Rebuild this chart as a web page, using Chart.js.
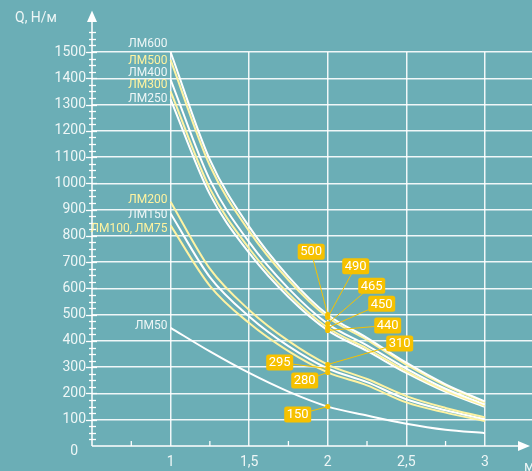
<!DOCTYPE html>
<html><head><meta charset="utf-8">
<script src="https://cdn.jsdelivr.net/npm/chart.js@4.4.1/dist/chart.umd.min.js"></script>
<style>html,body{margin:0;padding:0;background:#6baeb6;}canvas{display:block;}</style>
</head><body>
<canvas id="c" width="532" height="471"></canvas>
<script>
// ---- data ----
const lengths = [1, 1.25, 1.5, 1.75, 2, 2.25, 2.5, 2.75, 3];
const seriesNames = ['ЛМ600','ЛМ500','ЛМ400','ЛМ300','ЛМ250','ЛМ200','ЛМ150','ЛМ100, ЛМ75','ЛМ50'];
const lm600 = [1500, 1090, 835, 645, 500, 412, 317, 235, 170];
const lm500 = [1470, 1068, 818, 632, 490, 404, 310, 230, 165];
const lm400 = [1395, 1013, 776, 600, 465, 383, 295, 218, 158];
const lm300 = [1350, 980, 752, 580, 450, 371, 285, 211, 153];
const lm250 = [1320, 958, 735, 567, 440, 362, 278, 206, 149];
const lm200 = [930, 675, 518, 400, 310, 255, 190, 145, 109];
const lm150 = [885, 643, 493, 380, 295, 243, 178, 136, 102];
const lm100 = [840, 610, 468, 361, 280, 231, 166, 127, 95];
const lm50  = [450, 360, 278, 207, 150, 116, 85, 62, 49];
const seriesValues = [lm600, lm500, lm400, lm300, lm250, lm200, lm150, lm100, lm50];
const calloutX = 2;
const calloutValues = [500, 490, 465, 450, 440, 310, 295, 280, 150];
const xTickLabels = {'1':'1', '1.5':'1,5', '2':'2', '2.5':'2,5', '3':'3'};
const yTickStep = 100;
const yTitle = 'Q, Н/м';
const xTitle = 'м';

// ---- styles ----
const WHITE = '#ffffff', YELLOW = '#fff3a3';
const TXT = '#eef6f6', TXT_Y = '#fff3a0';
const GOLD = '#f6c100';
const seriesColors = [WHITE, YELLOW, WHITE, YELLOW, WHITE, YELLOW, WHITE, YELLOW, WHITE];
const labelColors = [TXT, TXT_Y, TXT, TXT_Y, TXT, TXT_Y, TXT, TXT_Y, TXT];
const labelDy = [-8, 0.7, -7, -6.8, -0.7, -1.7, 1.5, 4, -1.8];
const calloutOffsets = [[-16.5,-63],[28,-51],[44,-38],[54,-24],[60,-5],[72,-21],[-48,-6],[-23,8],[-30,8]];
const FONT = 'Roboto, "Open Sans", sans-serif';

const decor = {
  id: 'decor',
  beforeDatasetsDraw(chart) {
    const c = chart.ctx, xs = chart.scales.x, ys = chart.scales.y;
    const ax = xs.getPixelForValue(0.5), ay = ys.getPixelForValue(0);
    c.save();
    c.strokeStyle = '#ffffff'; c.fillStyle = '#ffffff'; c.lineWidth = 1.5;
    // y axis
    c.beginPath(); c.moveTo(ax, ay); c.lineTo(ax, 20); c.stroke();
    c.beginPath(); c.moveTo(ax, 10.5); c.lineTo(ax-5, 22); c.lineTo(ax+5, 22); c.closePath(); c.fill();
    // x axis
    c.beginPath(); c.moveTo(ax, ay); c.lineTo(520, ay); c.stroke();
    c.beginPath(); c.moveTo(530, ay); c.lineTo(518, ay-5); c.lineTo(518, ay+5); c.closePath(); c.fill();
    // y ticks (major every 100, minor every 25)
    c.lineWidth = 1.3;
    for (let v = 25; v <= 1575; v += 25) {
      const p = Math.round(ys.getPixelForValue(v)) + 0.5;
      const major = v % 100 === 0;
      c.beginPath(); c.moveTo(ax - (major ? 6 : 3), p); c.lineTo(ax + (major ? 5 : 4), p); c.stroke();
    }
    // x minor ticks
    for (let v = 0.75; v < 3; v += 0.5) {
      const p = xs.getPixelForValue(v);
      c.beginPath(); c.moveTo(p, ay); c.lineTo(p, ay - 5); c.stroke();
    }
    // texts
    c.fillStyle = TXT; c.font = '14px ' + FONT; c.textBaseline = 'middle';
    c.textAlign = 'left'; c.fillText(yTitle, 15, 18);
    c.textAlign = 'right'; c.fillText('0', 78, 451);
    c.textAlign = 'left'; c.fillText(xTitle, 524, 467);
    c.restore();
  },
  afterDatasetsDraw(chart) {
    const c = chart.ctx, xs = chart.scales.x, ys = chart.scales.y;
    c.save();
    // series labels
    c.font = '12px ' + FONT; c.textAlign = 'right'; c.textBaseline = 'middle';
    seriesValues.forEach((s, i) => {
      const px = xs.getPixelForValue(lengths[0]) - 3;
      const py = ys.getPixelForValue(s[0]) + labelDy[i];
      c.fillStyle = labelColors[i];
      c.fillText(seriesNames[i], px, py);
    });
    // callouts
    const px = xs.getPixelForValue(calloutX);
    calloutValues.forEach((v, i) => {
      const py = ys.getPixelForValue(v);
      const bx = px + calloutOffsets[i][0], by = py + calloutOffsets[i][1];
      c.strokeStyle = GOLD; c.lineWidth = 1;
      c.beginPath(); c.moveTo(bx, by); c.lineTo(px, py); c.stroke();
      c.fillStyle = GOLD;
      c.beginPath(); c.arc(px, py, 2.6, 0, Math.PI*2); c.fill();
    });
    calloutValues.forEach((v, i) => {
      const py = ys.getPixelForValue(v);
      const bx = px + calloutOffsets[i][0], by = py + calloutOffsets[i][1];
      const w = 27, h = 16;
      c.fillStyle = GOLD;
      c.beginPath(); c.roundRect(bx - w/2, by - h/2, w, h, 2.5); c.fill();
      c.fillStyle = '#ffffff'; c.font = '13px ' + FONT; c.textAlign = 'center'; c.textBaseline = 'middle';
      c.fillText(String(v), bx, by + 0.5);
    });
    c.restore();
  }
};

new Chart(document.getElementById('c'), {
  type: 'line',
  data: {
    datasets: seriesValues.map((s, i) => ({
      label: seriesNames[i],
      data: lengths.map((x, j) => ({x: x, y: s[j]})),
      borderColor: seriesColors[i],
      borderWidth: 2,
      pointRadius: 0,
      fill: false,
      cubicInterpolationMode: 'monotone',
      clip: false
    }))
  },
  options: {
    responsive: false, animation: false, devicePixelRatio: 1,
    layout: {padding: {top: 52, left: 0, right: 0, bottom: 0}},
    plugins: {legend: {display: false}, tooltip: {enabled: false}},
    scales: {
      x: {
        type: 'linear', min: 0.5, max: 3.3,
        afterFit(s) { s.height = 25; },
        border: {display: false},
        grid: {
          drawTicks: false, lineWidth: 1.5,
          color: (ctx) => (xTickLabels[String(ctx.tick.value)] ? 'rgba(255,255,255,0.9)' : 'rgba(0,0,0,0)')
        },
        ticks: {
          stepSize: 0.5, includeBounds: false, autoSkip: false, maxRotation: 0, padding: 8,
          color: TXT, font: {family: FONT, size: 14},
          callback: (v) => xTickLabels[String(v)] || ''
        }
      },
      y: {
        type: 'linear', min: 0, max: 1500,
        afterFit(s) { s.width = 92; },
        border: {display: false},
        grid: {
          drawTicks: false, lineWidth: 1.5,
          color: (ctx) => (ctx.tick.value > 0 ? 'rgba(255,255,255,0.9)' : 'rgba(0,0,0,0)')
        },
        ticks: {
          stepSize: yTickStep, padding: 6, color: TXT, font: {family: FONT, size: 14},
          callback: (v) => (v === 0 ? '' : String(v))
        }
      }
    }
  },
  plugins: [decor]
});
</script>
</body></html>
